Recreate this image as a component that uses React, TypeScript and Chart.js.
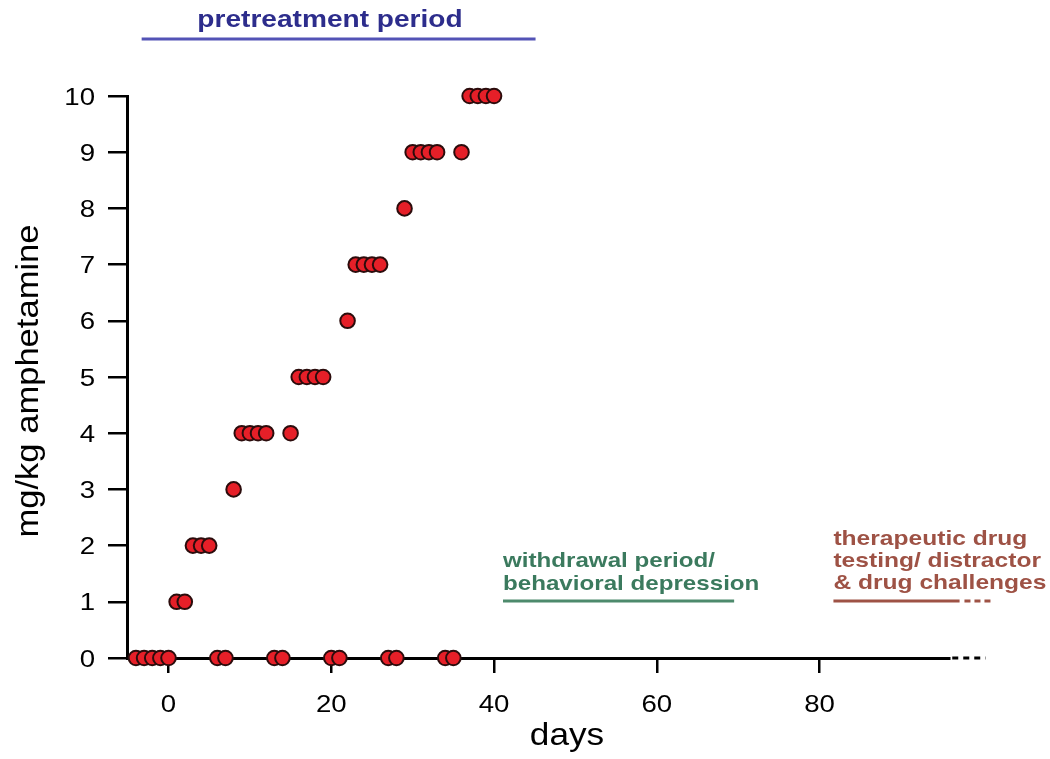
import React, { useEffect, useRef } from "react";
import { Chart, registerables } from "chart.js";

Chart.register(...registerables);

// ---- data ----
const DAYS = [-4, -3, -2, -1, 0, 1, 2, 3, 4, 5, 6, 7, 8, 9, 10, 11, 12, 13, 14, 15, 16, 17, 18, 19, 20, 21, 22, 23, 24, 25, 26, 27, 28, 29, 30, 31, 32, 33, 34, 35, 36, 37, 38, 39, 40];
const DOSES = [0, 0, 0, 0, 0, 1, 1, 2, 2, 2, 0, 0, 3, 4, 4, 4, 4, 0, 0, 4, 5, 5, 5, 5, 0, 0, 6, 7, 7, 7, 7, 0, 0, 8, 9, 9, 9, 9, 0, 0, 9, 10, 10, 10, 10];
const X_TICKS = [0, 20, 40, 60, 80];
const Y_TICKS = [0, 1, 2, 3, 4, 5, 6, 7, 8, 9, 10];
const X_TITLE = "days";
const Y_TITLE = "mg/kg amphetamine";
const PRETREAT_LABEL = ["pretreatment period"];
const WITHDRAWAL_LABEL = ["withdrawal period/", "behavioral depression"];
const THERAPEUTIC_LABEL = ["therapeutic drug", "testing/ distractor", "& drug challenges"];
// period spans (days)
const PRETREAT_SPAN = [-3.3, 45.1];
const WITHDRAWAL_SPAN = [41.1, 69.5];
const THERAPEUTIC_SPAN = [81.7, 97.2];
const THERAPEUTIC_CONT = [97.8, 101.0];
const X_AXIS_CONT = [96.3, 100.4];

const FONT = '"Liberation Sans", Arial, Helvetica, sans-serif';

function drawStretched(
  ctx: CanvasRenderingContext2D,
  text: string,
  x: number,
  y: number,
  font: string,
  color: string,
  sx: number,
  align: "left" | "center" | "right"
) {
  ctx.save();
  ctx.font = font;
  ctx.fillStyle = color;
  ctx.textBaseline = "alphabetic";
  ctx.textAlign = "left";
  const w = ctx.measureText(text).width * sx;
  const left = align === "center" ? x - w / 2 : align === "right" ? x - w : x;
  ctx.translate(left, y);
  ctx.scale(sx, 1);
  ctx.fillText(text, 0, 0);
  ctx.restore();
}

function hLine(ctx: CanvasRenderingContext2D, x1: number, x2: number, y: number, color: string, width: number, dash?: number[]) {
  ctx.save();
  ctx.strokeStyle = color;
  ctx.lineWidth = width;
  if (dash) ctx.setLineDash(dash);
  ctx.beginPath();
  ctx.moveTo(x1, y);
  ctx.lineTo(x2, y);
  ctx.stroke();
  ctx.restore();
}

const annotationPlugin = {
  id: "annotations",
  afterDraw(chart: any) {
    const ctx: CanvasRenderingContext2D = chart.ctx;
    const xs = chart.scales.x;
    const ys = chart.scales.y;
    const area = chart.chartArea;

    // tick labels
    Y_TICKS.forEach((v) => {
      drawStretched(ctx, String(v), area.left - 32, ys.getPixelForValue(v) + 8.5, `24px ${FONT}`, "#000", 1.15, "right");
    });
    X_TICKS.forEach((v) => {
      drawStretched(ctx, String(v), xs.getPixelForValue(v), area.bottom + 54, `24px ${FONT}`, "#000", 1.15, "center");
    });

    // axis titles
    drawStretched(ctx, X_TITLE, 567, 745, `32px ${FONT}`, "#000", 1.1, "center");
    ctx.save();
    ctx.translate(38, 381);
    ctx.rotate(-Math.PI / 2);
    drawStretched(ctx, Y_TITLE, 0, 0, `32px ${FONT}`, "#000", 1.08, "center");
    ctx.restore();

    // x axis continuation
    hLine(ctx, xs.getPixelForValue(X_AXIS_CONT[0]), xs.getPixelForValue(X_AXIS_CONT[1]), area.bottom, "#000", 3, [6, 5]);

    // pretreatment period
    const pX1 = xs.getPixelForValue(PRETREAT_SPAN[0]);
    const pX2 = xs.getPixelForValue(PRETREAT_SPAN[1]);
    drawStretched(ctx, PRETREAT_LABEL[0], 330, 27, `bold 24px ${FONT}`, "#2d2d8c", 1.17, "center");
    hLine(ctx, pX1, pX2, 39, "#5353b6", 3);

    // withdrawal
    const wX1 = xs.getPixelForValue(WITHDRAWAL_SPAN[0]);
    const wX2 = xs.getPixelForValue(WITHDRAWAL_SPAN[1]);
    WITHDRAWAL_LABEL.forEach((t, i) => {
      drawStretched(ctx, t, wX1, 567 + i * 23, `bold 21px ${FONT}`, "#3b7a5e", 1.15, "left");
    });
    hLine(ctx, wX1, wX2, 601, "#4d8a6c", 3);

    // therapeutic
    const tX1 = xs.getPixelForValue(THERAPEUTIC_SPAN[0]);
    const tX2 = xs.getPixelForValue(THERAPEUTIC_SPAN[1]);
    THERAPEUTIC_LABEL.forEach((t, i) => {
      drawStretched(ctx, t, tX1, 545 + i * 22, `bold 21px ${FONT}`, "#9e5245", 1.17, "left");
    });
    hLine(ctx, tX1, tX2, 601, "#9e5245", 3);
    hLine(ctx, xs.getPixelForValue(THERAPEUTIC_CONT[0]), xs.getPixelForValue(THERAPEUTIC_CONT[1]), 601, "#9e5245", 3, [6, 4]);
  },
};

export default function App() {
  const ref = useRef<HTMLCanvasElement | null>(null);

  useEffect(() => {
    document.body.style.margin = "0";
    const canvas = ref.current;
    if (!canvas) return;
    const chart = new Chart(canvas, {
      type: "scatter",
      data: {
        datasets: [
          {
            data: DAYS.map((d, i) => ({ x: d, y: DOSES[i] })),
            backgroundColor: "#e61f28",
            borderColor: "#2b0c0c",
            borderWidth: 2,
            pointRadius: 7.3,
            pointHoverRadius: 7.3,
            clip: false as any,
          },
        ],
      },
      options: {
        animation: false,
        responsive: false,
        events: [],
        layout: { padding: { left: 0, top: 96, right: 101, bottom: 0 } },
        plugins: { legend: { display: false }, tooltip: { enabled: false } },
        scales: {
          x: {
            type: "linear",
            min: -5.1,
            max: 95.9,
            afterBuildTicks: (scale: any) => {
              scale.ticks = X_TICKS.map((v) => ({ value: v }));
            },
            afterFit: (scale: any) => {
              scale.height = 101;
            },
            ticks: { display: false },
            grid: { display: true, drawOnChartArea: false, drawTicks: true, tickLength: 15, color: "#000", lineWidth: 2.5 },
            border: { display: true, color: "#000", width: 3 },
          },
          y: {
            type: "linear",
            min: 0,
            max: 10,
            afterBuildTicks: (scale: any) => {
              scale.ticks = Y_TICKS.map((v) => ({ value: v }));
            },
            afterFit: (scale: any) => {
              scale.width = 127;
            },
            ticks: { display: false },
            grid: { display: true, drawOnChartArea: false, drawTicks: true, tickLength: 19, color: "#000", lineWidth: 2.5 },
            border: { display: true, color: "#000", width: 3 },
          },
        },
      },
      plugins: [annotationPlugin],
    });
    return () => chart.destroy();
  }, []);

  return (
    <div style={{ width: 1050, height: 759, background: "#fff" }}>
      <canvas ref={ref} width={1050} height={759} style={{ display: "block", width: 1050, height: 759 }} />
    </div>
  );
}
